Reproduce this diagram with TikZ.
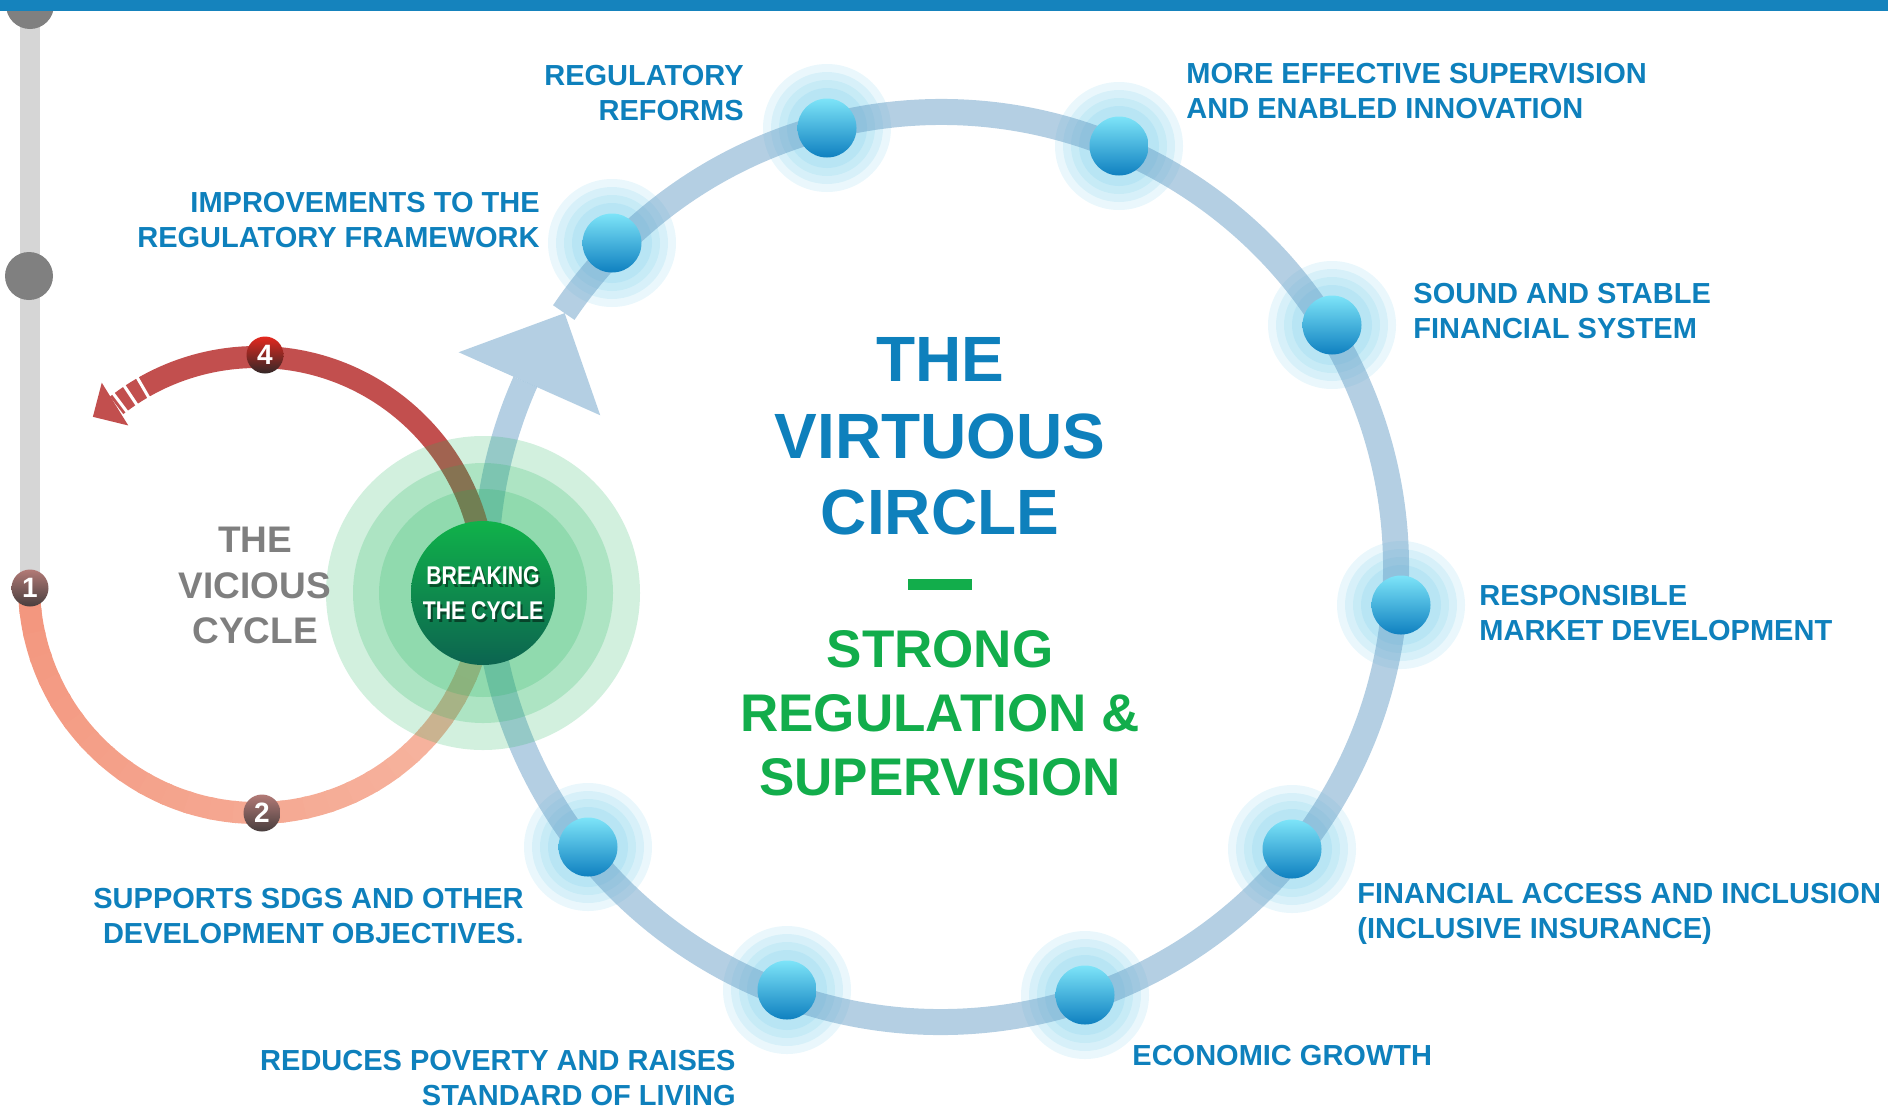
\documentclass[tikz,border=0pt]{standalone}
\usepackage{fontspec}
\setmainfont{Liberation Sans}
\newfontfamily\narrowfont[FakeStretch=0.83]{Liberation Sans}
\usetikzlibrary{calc}

\definecolor{barblue}{RGB}{21,131,189}
\definecolor{labelblue}{RGB}{14,128,188}
\definecolor{ringblue}{RGB}{105,159,199}
\definecolor{glowblue}{RGB}{90,195,230}
\definecolor{spheretop}{RGB}{125,228,248}
\definecolor{spherebot}{RGB}{15,128,192}
\definecolor{titlegreen}{RGB}{18,173,75}
\definecolor{halogreen}{RGB}{29,179,90}
\definecolor{breaktop}{RGB}{16,178,74}
\definecolor{breakbot}{RGB}{12,100,80}
\definecolor{salmondark}{RGB}{243,150,126}
\definecolor{salmonlight}{RGB}{247,188,168}
\definecolor{viciousred}{RGB}{194,79,78}
\definecolor{railgray}{RGB}{214,214,214}
\definecolor{dotgray}{RGB}{128,128,128}
\definecolor{textgray}{RGB}{127,127,127}

\tikzset{
  itemtext/.style = {text=labelblue, inner sep=0pt, font=\fontsize{14.5}{17.5}\selectfont\bfseries},
  sphere/.style = {circle, inner sep=0pt, minimum size=29.5pt, top color=spheretop, bottom color=spherebot},
  badge/.style = {circle, inner sep=0pt, minimum size=18.5pt, text=white, font=\fontsize{14}{14}\selectfont\bfseries},
  virtuousring/.style = {draw=ringblue, draw opacity=0.5, line width=13pt},
  viciousarc/.style = {line width=11pt},
  breaktext/.style = {align=center, inner sep=0pt, font=\narrowfont\bfseries\fontsize{12.8}{17.5}\selectfont}
}

\def\spherelist{reform/827/128, superv/1119/146, sound/1332/325, respons/1401/605,
  access/1292/849, growth/1085/995, poverty/787/990, sdgs/588/847, improve/612/243}

\begin{document}
\begin{tikzpicture}[x = .5pt, y = -.5pt]
  \useasboundingbox (0,0) rectangle (1888,1109);
  \clip (0,0) rectangle (1888,1109);
  \coordinate (virc) at (941,567); % centre of the virtuous circle
  \coordinate (vicc) at (257,585); % centre of the vicious cycle

  % grey rail on the left
  \draw[railgray, line width=10pt] (30,0) -- (30,588);
  \fill[dotgray] (30,5) circle[radius=24];
  \fill[dotgray] (29,276) circle[radius=24];

  % glows round the points
  \foreach \n/\px/\py in \spherelist
    \foreach \r in {64,56,48,40}
      \fill[glowblue, fill opacity=0.13] (\px,\py) circle[radius=\r];

  % virtuous circle with its arrow
  \draw[virtuousring] (virc) ++(214:455) arc[start angle=214, end angle=564, radius=455];
  \fill[ringblue, fill opacity=0.5] ($(virc)+(204:528)$) -- ($(virc)+(204:373)$) -- ($(virc)+(214:454)$) -- cycle;

  % vicious cycle
  \foreach \a [evaluate=\a as \m using {\a/1.8}] in {180,174,...,6}
    \draw[viciousarc, color=salmondark!\m!salmonlight] (vicc) ++(\a:228) arc[start angle=\a, end angle=\a-7, radius=228];
  \draw[viciousarc, viciousred] (vicc) ++(0:228) arc[start angle=0, end angle=-128, radius=228];
  \foreach \a in {-120,-123.7,-126.9}
    \draw[white, line width=1.5pt] (vicc) ++(\a:214) -- ++(\a:28);
  \fill[viciousred] ($(vicc)+(-127.5:255)$) -- ($(vicc)+(-128.9:205)$) -- ($(vicc)+(-134.3:235)$) -- cycle;

  % breaking the cycle
  \foreach \r in {157,130,104}
    \fill[halogreen, fill opacity=0.2] (483,593) circle[radius=\r];
  \node[circle, inner sep=0pt, minimum size=72pt, top color=breaktop, bottom color=breakbot] (breaking) at (483,593) {};
  \node[breaktext, text=black, text opacity=0.45] at (485,596) {BREAKING\\THE CYCLE};
  \node[breaktext, text=white] (breaklabel) at (breaking) {BREAKING\\THE CYCLE};

  % points of the virtuous circle
  \foreach \n/\px/\py in \spherelist
    \node[sphere] (\n) at (\px,\py) {};

  % numbered steps
  \node[badge, top color={rgb,255:red,178;green,122;blue,118}, bottom color={rgb,255:red,72;green,62;blue,62}] (one) at (30,588) {1};
  \node[badge, top color={rgb,255:red,178;green,122;blue,118}, bottom color={rgb,255:red,72;green,62;blue,62}] (two) at (262,813) {2};
  \node[badge, top color={rgb,255:red,228;green,40;blue,30}, bottom color={rgb,255:red,50;green,40;blue,40}] (four) at (265,355) {4};

  % titles
  \node[anchor=north, align=center, inner sep=0pt, text=labelblue, font=\fontsize{32}{38.3}\selectfont\bfseries] (virtuous) at (940,337) {THE\\VIRTUOUS\\CIRCLE};
  \fill[titlegreen] (908,579) rectangle (972,590);
  \node[anchor=north, align=center, inner sep=0pt, text=titlegreen, font=\fontsize{26.5}{32}\selectfont\bfseries] (strong) at (940,630) {STRONG\\REGULATION \&\\SUPERVISION};
  \node[anchor=north, align=center, inner sep=0pt, text=textgray, font=\fontsize{18.5}{22.75}\selectfont\bfseries] (vicious) at (255,527) {THE\\VICIOUS\\CYCLE};

  % labels
  \node[itemtext, anchor=north east, align=right] (reformtext) at (744,65) {REGULATORY\\REFORMS};
  \node[itemtext, anchor=north west, align=left] (supervtext) at (1186,63) {MORE EFFECTIVE SUPERVISION\\AND ENABLED INNOVATION};
  \node[itemtext, anchor=north east, align=right] (improvetext) at (540,192) {IMPROVEMENTS TO THE\\REGULATORY FRAMEWORK};
  \node[itemtext, anchor=north west, align=left] (soundtext) at (1413,283) {SOUND AND STABLE\\FINANCIAL SYSTEM};
  \node[itemtext, anchor=north west, align=left] (respontext) at (1479,585) {RESPONSIBLE\\MARKET DEVELOPMENT};
  \node[itemtext, anchor=north west, align=left] (accesstext) at (1357,883) {FINANCIAL ACCESS AND INCLUSION\\(INCLUSIVE INSURANCE)};
  \node[itemtext, anchor=north west] (growthtext) at (1132,1045) {ECONOMIC GROWTH};
  \node[itemtext, anchor=north east, align=right] (povertytext) at (736,1050) {REDUCES POVERTY AND RAISES\\STANDARD OF LIVING};
  \node[itemtext, anchor=north east, align=right] (sdgstext) at (524,888) {SUPPORTS SDGS AND OTHER\\DEVELOPMENT OBJECTIVES.};

  % top bar
  \fill[barblue] (0,0) rectangle (1888,10.7);
\end{tikzpicture}
\end{document}
